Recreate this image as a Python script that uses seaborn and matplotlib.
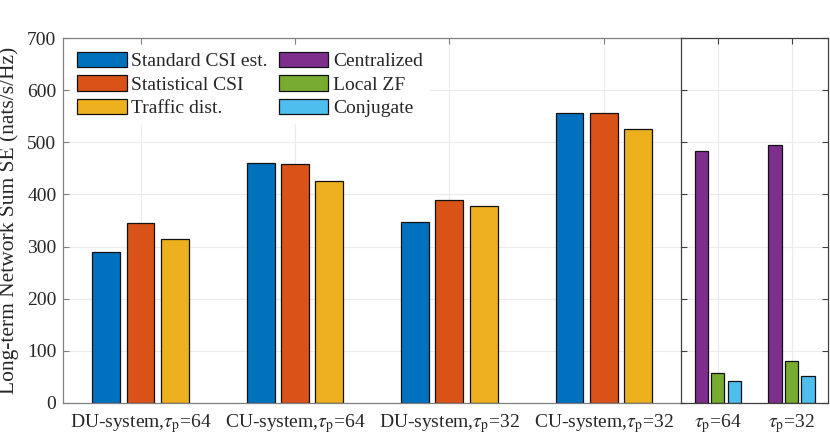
import numpy as np
import pandas as pd
import matplotlib
matplotlib.use("Agg")
import matplotlib.pyplot as plt
import seaborn as sns

# ================= DATA =================
left_groups = ["DU-system,$\\tau_{\\rm p}$=64", "CU-system,$\\tau_{\\rm p}$=64",
               "DU-system,$\\tau_{\\rm p}$=32", "CU-system,$\\tau_{\\rm p}$=32"]
left_series = ["Standard CSI est.", "Statistical CSI", "Traffic dist."]
standard_csi = [290, 460, 348, 557]
statistical_csi = [345, 458, 389, 556]
traffic_dist = [315, 426, 378, 526]

right_groups = ["$\\tau_{\\rm p}$=64", "$\\tau_{\\rm p}$=32"]
right_series = ["Centralized", "Local ZF", "Conjugate"]
centralized = [483, 495]
local_zf = [57, 80]
conjugate = [41, 51]

left_colors = ["#0072BD", "#D95319", "#EDB120"]
right_colors = ["#7E2F8E", "#77AC30", "#4DBEEE"]

df_left = pd.DataFrame({
    "group": left_groups * 3,
    "method": np.repeat(left_series, len(left_groups)),
    "se": standard_csi + statistical_csi + traffic_dist,
})
df_right = pd.DataFrame({
    "group": right_groups * 3,
    "method": np.repeat(right_series, len(right_groups)),
    "se": centralized + local_zf + conjugate,
})

# ================= STYLE =================
sns.set_style("ticks")
plt.rcParams["font.family"] = ["Liberation Serif", "DejaVu Serif"]
plt.rcParams["mathtext.fontset"] = "stix"
plt.rcParams["font.size"] = 14

fig = plt.figure(figsize=(8.3, 4.42), dpi=100)
ax1 = fig.add_axes([0.0763, 0.0889, 0.7442, 0.8244])
ax2 = fig.add_axes([0.8205, 0.0889, 0.1775, 0.8244])

bar_kw = dict(width=0.667, gap=0.19, edgecolor="#111111", linewidth=0.9,
              errorbar=None, saturation=1)

sns.barplot(data=df_left, x="group", y="se", hue="method", order=left_groups,
            hue_order=left_series, palette=left_colors, ax=ax1, **bar_kw)
sns.barplot(data=df_right, x="group", y="se", hue="method", order=right_groups,
            hue_order=right_series, palette=right_colors, ax=ax2, **bar_kw)

for ax, spine_col in [(ax1, "#808080"), (ax2, "#404040")]:
    ax.set_ylim(0, 700)
    ax.set_yticks(range(0, 701, 100))
    ax.set_axisbelow(True)
    ax.grid(True, color="#ebebeb", linewidth=0.8)
    ax.set_xlabel("")
    ax.set_ylabel("")
    for s in ax.spines.values():
        s.set_color(spine_col)
        s.set_linewidth(0.9)
    ax.tick_params(direction="in", length=4, width=0.8, color=spine_col,
                   top=True, labelsize=14, labelcolor="#262626")
    ax.tick_params(axis="x", pad=7)
    ax.tick_params(axis="y", pad=5)

ax1.set_xlim(-0.5, 3.5)
ax2.set_xlim(-0.5, 1.5)
ax1.spines["right"].set_visible(False)
ax2.tick_params(right=True, labelleft=False)

ax1.set_ylabel("Long-term Network Sum SE (nats/s/Hz)", fontsize=15.5,
               labelpad=6, color="#262626")

# ================= LEGEND =================
h1, l1 = ax1.get_legend_handles_labels()
h2, l2 = ax2.get_legend_handles_labels()
ax2.get_legend().remove()
ax1.legend(h1 + h2, l1 + l2, ncol=2, loc="upper left", fontsize=14,
           frameon=True, fancybox=False, edgecolor="white", facecolor="white",
           framealpha=1, handlelength=2.55, handleheight=0.85, handletextpad=0.25,
           columnspacing=0.55, labelspacing=0.25, borderpad=0.3, borderaxespad=0.4)

plt.savefig("out.png", dpi=100)
